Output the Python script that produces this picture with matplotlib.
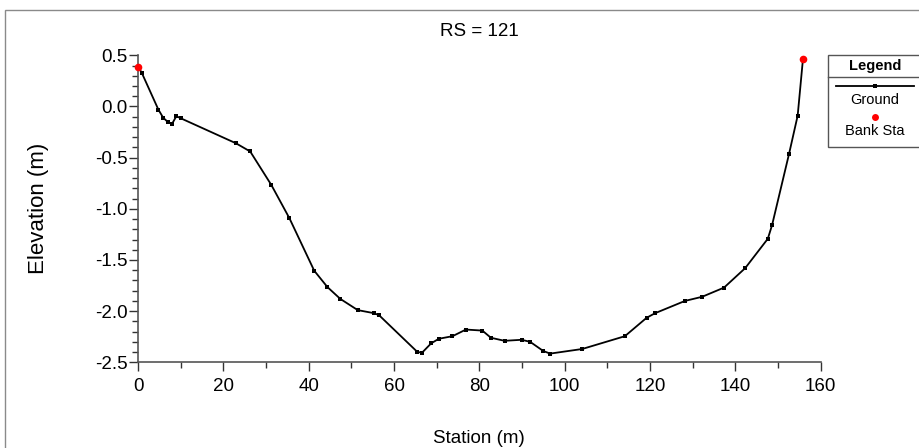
import matplotlib
matplotlib.use("Agg")
import matplotlib.pyplot as plt
from matplotlib.lines import Line2D
from matplotlib.patches import Rectangle
from matplotlib.ticker import MultipleLocator, FormatStrFormatter

plt.rcParams['font.family'] = ['Liberation Sans', 'DejaVu Sans']

# Cross-section RS 121: ground survey points
station = [0.0, 0.87, 4.77, 5.9, 6.95, 7.97, 9.0, 10.0, 22.97, 26.3, 31.25, 35.5,
           41.3, 44.4, 47.4, 51.5, 55.3, 56.5, 65.5, 66.6, 68.7, 70.5, 73.7, 76.85,
           80.7, 82.7, 85.9, 89.9, 91.9, 95.0, 96.6, 104.1, 114.1, 119.2, 121.2,
           128.2, 132.2, 137.35, 142.3, 147.6, 148.6, 152.6, 154.6, 155.85]
elevation = [0.39, 0.33, -0.03, -0.11, -0.15, -0.17, -0.095, -0.115, -0.36, -0.44,
             -0.767, -1.093, -1.605, -1.765, -1.88, -1.99, -2.02, -2.04, -2.40, -2.405,
             -2.315, -2.27, -2.245, -2.18, -2.19, -2.26, -2.29, -2.28, -2.30, -2.39,
             -2.415, -2.37, -2.245, -2.065, -2.02, -1.90, -1.86, -1.77, -1.58, -1.293,
             -1.16, -0.46, -0.09, 0.467]

# Bank stations
bank_station = [0.0, 155.85]
bank_elevation = [0.39, 0.467]

fig = plt.figure(figsize=(9.19, 4.48), dpi=100)

# outer frame
fig.add_artist(Rectangle((5 / 919, -0.05), 1.2, 1 - 10 / 448 + 0.05,
                         transform=fig.transFigure, fill=False,
                         edgecolor='#8a8a8a', linewidth=1.0))

ax = fig.add_axes([138 / 919, 85.7 / 448, (820.7 - 138) / 919, (362.3 - 55.3) / 448])

ax.plot(station, elevation, color='black', linewidth=1.3, marker='s',
        markersize=2.2, markeredgewidth=0, clip_on=False, zorder=3)
ax.plot(bank_station, bank_elevation, linestyle='none', marker='o',
        color='#ff0000', markersize=5.5, markeredgewidth=0, clip_on=False, zorder=4)

ax.set_xlim(0, 160)
ax.set_ylim(-2.5, 0.5)
ax.xaxis.set_major_locator(MultipleLocator(20))
ax.xaxis.set_minor_locator(MultipleLocator(10))
ax.yaxis.set_major_locator(MultipleLocator(0.5))
ax.yaxis.set_minor_locator(MultipleLocator(0.1))
ax.yaxis.set_major_formatter(FormatStrFormatter('%.1f'))

for side in ('top', 'right'):
    ax.spines[side].set_visible(False)
for side in ('left', 'bottom'):
    ax.spines[side].set_color('#555555')
    ax.spines[side].set_linewidth(1.2)

ax.tick_params(which='major', direction='out', length=6.5, width=1, color='#333333',
               labelsize=13.5)
ax.tick_params(which='minor', direction='out', length=4.5, width=1, color='#333333')
ax.tick_params(axis='x', which='major', pad=5)
ax.tick_params(axis='y', which='major', pad=1)

ax.set_xlabel('Station (m)', fontsize=13.5, labelpad=25)
ax.set_ylabel('Elevation (m)', fontsize=16, labelpad=33)
ax.set_title('RS = 121', fontsize=13.5, pad=14)

# legend panel
def fx(px):
    return px / 919

def fy(py):
    return 1 - py / 448

fig.add_artist(Rectangle((fx(827.7), fy(146.7)), fx(919.5) - fx(827.7), fy(55) - fy(146.7),
                         transform=fig.transFigure, fill=False,
                         edgecolor='#555555', linewidth=1.0))
fig.add_artist(Line2D([fx(827.7), fx(919.5)], [fy(77), fy(77)],
                      transform=fig.transFigure, color='#555555', linewidth=1.0))
fig.text(fx(875), fy(65.5), 'Legend', ha='center', va='center', fontsize=10.5,
         fontweight='bold')
fig.add_artist(Line2D([fx(836), fx(914)], [fy(86), fy(86)], transform=fig.transFigure,
                      color='black', linewidth=1.3))
fig.add_artist(Line2D([fx(875)], [fy(86)], transform=fig.transFigure, marker='s',
                      markersize=2.2, markeredgewidth=0, color='black'))
fig.text(fx(875), fy(100), 'Ground', ha='center', va='center', fontsize=10.5)
fig.add_artist(Line2D([fx(875)], [fy(116.7)], transform=fig.transFigure, marker='o',
                      markersize=5, markeredgewidth=0, color='#ff0000'))
fig.text(fx(875), fy(131), 'Bank Sta', ha='center', va='center', fontsize=10.5)

fig.savefig('out.png', dpi=100)
